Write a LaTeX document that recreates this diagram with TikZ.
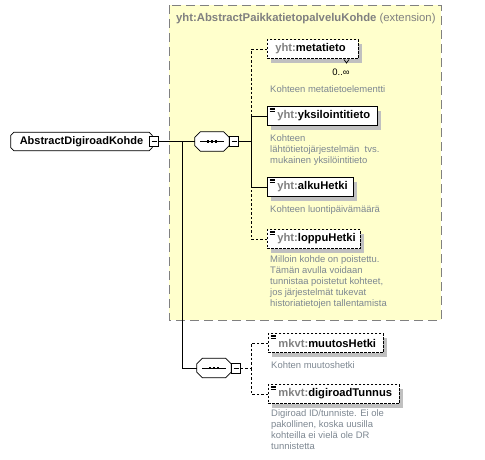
\documentclass[tikz,border=0pt]{standalone}
\usepackage{fontspec}
\setmainfont{Liberation Sans}
\usetikzlibrary{shadows}
\definecolor{yel}{RGB}{255,255,204}
\definecolor{bord}{RGB}{128,128,128}
\definecolor{shd}{RGB}{192,192,192}
\definecolor{desc}{RGB}{125,135,145}
\definecolor{pref}{RGB}{128,128,128}
\pgfdeclarelayer{bgzero}
\pgfdeclarelayer{bgone}
\pgfsetlayers{bgzero,bgone,main}
\newcommand{\octapath}[2]{([xshift=#2pt]#1.north west) -- ([xshift=-#2pt]#1.north east) -- ([yshift=-#2pt]#1.north east) -- ([yshift=#2pt]#1.south east) -- ([xshift=-#2pt]#1.south east) -- ([xshift=#2pt]#1.south west) -- ([yshift=#2pt]#1.south west) -- ([yshift=-#2pt]#1.north west) -- cycle}
\newcommand{\octadraw}[2]{%
  \begin{pgfonlayer}{bgone}
  \fill[shd, shift={(4,4)}] \octapath{#1}{#2};
  \filldraw[fill=white, draw=black, line width=0.8pt] \octapath{#1}{#2};
  \end{pgfonlayer}}
\begin{document}
\begin{tikzpicture}[x=1pt,y=-1pt,
  shadowed/.style={general shadow={fill=shd, shadow xshift=4pt, shadow yshift=-4pt}},
  elembox/.style={draw=black, line width=0.8pt, fill=white, anchor=west, minimum height=19pt,
     inner sep=0pt, align=left, font=\fontsize{11.2}{13}\selectfont\bfseries, shadowed},
  optbox/.style={elembox, dash pattern=on 2.5pt off 1.5pt},
  seqbox/.style={minimum width=34pt, minimum height=19pt, inner sep=0pt},
  btn/.style={draw=black, line width=0.8pt, fill=white, minimum width=9pt, minimum height=10pt,
     inner sep=0pt, path picture={\draw[line width=0.8pt] ([xshift=2pt]path picture bounding box.west) -- ([xshift=-2pt]path picture bounding box.east);}},
  desctext/.style={anchor=north west, align=left, inner sep=0pt, text=desc,
     font=\fontsize{9.45}{11}\selectfont},
  conn/.style={line width=0.8pt},
  optconn/.style={line width=0.8pt, dash pattern=on 2.5pt off 2pt},
  icon/.style={line width=0.7pt}
]
\useasboundingbox (0,0) rectangle (485,459);

% extension area
\begin{pgfonlayer}{bgzero}
\filldraw[draw=bord, line width=0.9pt, fill=yel, dash pattern=on 9pt off 5pt] (169,5) rectangle (441,320);
\end{pgfonlayer}
\node[anchor=west, inner sep=0pt, text=pref, font=\fontsize{11.3}{13}\selectfont] (exttitle) at (176,19)
  {\textbf{yht:AbstractPaikkatietopalveluKohde} (extension)};

% main element
\node[minimum width=141pt, minimum height=18pt, inner sep=0pt,
  font=\fontsize{11}{13}\selectfont\bfseries] (main) at (81.5,141.5) {AbstractDigiroadKohde};
\octadraw{main}{3}
\node[btn] (mainbtn) at (154,141.5) {};

% sequence 1
\node[seqbox] (seq1) at (212,141.5) {};
\octadraw{seq1}{5.5}
\node[btn] (seq1btn) at (234,141.5) {};
\draw[line width=0.8pt] ([xshift=-12pt]seq1.center) -- ([xshift=12pt]seq1.center);
\foreach \dx in {-4,0,4} \fill ([xshift=\dx pt]seq1.center) ++(-1.4,-1.4) rectangle ++(2.8,2.8);

% sequence 2
\node[seqbox] (seq2) at (214,368) {};
\octadraw{seq2}{5.5}
\node[btn] (seq2btn) at (236,368) {};
\draw[line width=0.8pt] ([xshift=-12pt]seq2.center) -- ([xshift=12pt]seq2.center);
\foreach \dx in {-4,0,4} \fill ([xshift=\dx pt]seq2.center) ++(-1.4,-1.4) rectangle ++(2.8,2.8);

% elements of extension
\node[optbox, minimum width=91pt, text width=91pt] (meta) at (267,49)
  {\hspace*{8pt}\textcolor{pref}{yht:}metatieto};
\draw[line width=0.7pt] (344,59.5) -- (346.5,63) -- (349,59.5);
\node[inner sep=0pt, font=\fontsize{9.45}{10}\selectfont] (metamult) at (341,72) {0..∞};
\node[desctext] (metadesc) at (270,85) {Kohteen metatietoelementti};

\node[elembox, minimum width=110pt, text width=110pt] (yks) at (267,116)
  {\hspace*{10pt}\textcolor{pref}{yht:}yksilointitieto};
\node[desctext] (yksdesc) at (270,134.5) {Kohteen\\lähtötietojärjestelmän\ \ tvs.\\mukainen yksilöintitieto};

\node[elembox, minimum width=86pt, text width=86pt] (alku) at (267,187)
  {\hspace*{10pt}\textcolor{pref}{yht:}alkuHetki};
\node[desctext] (alkudesc) at (270,205.5) {Kohteen luontipäivämäärä};

\node[optbox, minimum width=93pt, text width=93pt] (loppu) at (267,239)
  {\hspace*{10pt}\textcolor{pref}{yht:}loppuHetki};
\node[desctext] (loppudesc) at (270,255.5) {Milloin kohde on poistettu.\\Tämän avulla voidaan\\tunnistaa poistetut kohteet,\\jos järjestelmät tukevat\\historiatietojen tallentamista};

% elements of sequence 2
\node[optbox, minimum width=115pt, text width=115pt] (muutos) at (268,343)
  {\hspace*{10pt}\textcolor{pref}{mkvt:}muutosHetki};
\node[desctext] (muutosdesc) at (271,361.5) {Kohten muutoshetki};

\node[optbox, minimum width=131pt, text width=131pt] (digi) at (268,394)
  {\hspace*{10pt}\textcolor{pref}{mkvt:}digiroadTunnus};
\node[desctext] (digidesc) at (271,409.5) {Digiroad ID/tunniste. Ei ole\\pakollinen, koska uusilla\\kohteilla ei vielä ole DR\\tunnistetta};

% icons
\foreach \n in {yks,alku,loppu,muutos,digi}{
  \foreach \dy in {2,3.7,5.4}
    \draw[icon] ([shift={(2.5,\dy)}]\n.north west) -- ++(5,0);
}

% connectors
\coordinate (j1) at (182,141.5);
\draw[conn] (mainbtn.east) -- (seq1.west);
\draw[conn] (j1) |- (seq2.west);
\coordinate (b1) at (251,141.5);
\draw[conn] (seq1btn.east) -- (b1);
\draw[optconn] (meta.west) -| (b1 |- yks.west);
\draw[conn] (yks.west) -| (b1 |- alku.west);
\draw[conn] (alku.west) -- (b1 |- alku.west);
\draw[optconn] (loppu.west) -| (b1 |- alku.west);
\coordinate (b2) at (251,368);
\draw[optconn] (seq2btn.east) -- (b2);
\draw[optconn] (muutos.west) -| (b2);
\draw[optconn] (digi.west) -| (b2);
\end{tikzpicture}
\end{document}
